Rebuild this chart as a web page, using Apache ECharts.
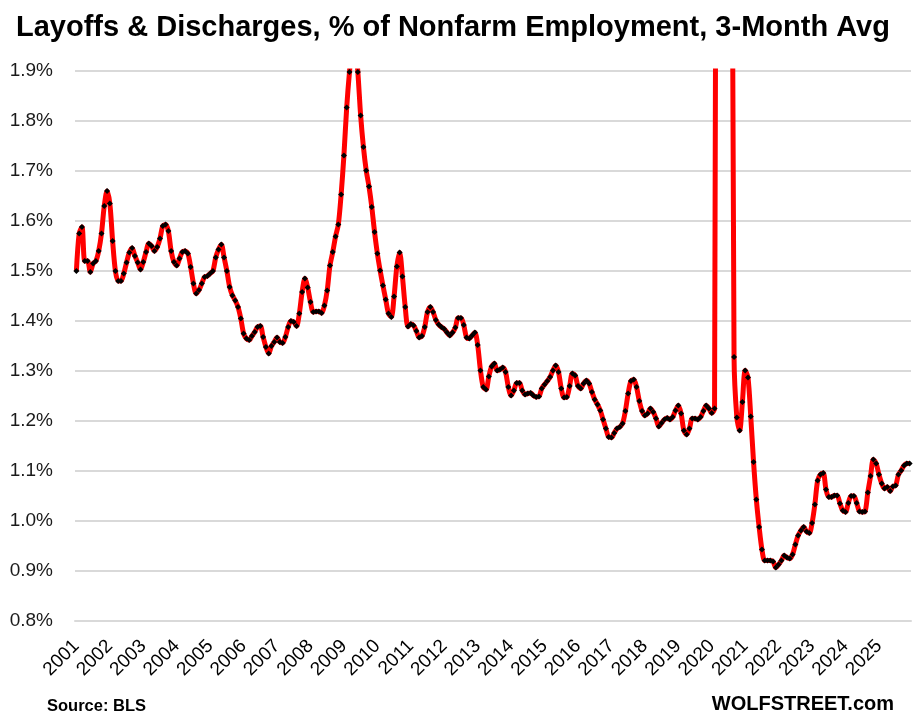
<!DOCTYPE html>
<html>
<head>
<meta charset="utf-8">
<script src="https://cdn.jsdelivr.net/npm/echarts@6/dist/echarts.min.js"></script>
<style>
html,body{margin:0;padding:0;background:#fff;}
#c{width:922px;height:727px;}
</style>
</head>
<body>
<div id="c"></div>
<script>
// Tick labels (years) and monthly values, % of nonfarm employment (3-month avg)
const years = ['2001','2002','2003','2004','2005','2006','2007','2008','2009','2010','2011','2012','2013',
  '2014','2015','2016','2017','2018','2019','2020','2021','2022','2023','2024','2025'];

const y2001 = [1.50, 1.575, 1.588, 1.52, 1.52, 1.498, 1.515, 1.52, 1.54, 1.575, 1.63, 1.66];
const y2002 = [1.635, 1.56, 1.50, 1.48, 1.48, 1.495, 1.517, 1.537, 1.546, 1.53, 1.517, 1.503];
const y2003 = [1.518, 1.538, 1.555, 1.55, 1.54, 1.548, 1.565, 1.59, 1.593, 1.58, 1.54, 1.518];
const y2004 = [1.511, 1.525, 1.538, 1.54, 1.535, 1.508, 1.475, 1.455, 1.462, 1.475, 1.488, 1.49];
const y2005 = [1.495, 1.50, 1.527, 1.543, 1.553, 1.527, 1.50, 1.468, 1.451, 1.441, 1.428, 1.405];
const y2006 = [1.375, 1.365, 1.362, 1.37, 1.378, 1.388, 1.39, 1.368, 1.348, 1.335, 1.35, 1.358];
const y2007 = [1.367, 1.358, 1.356, 1.368, 1.388, 1.40, 1.398, 1.39, 1.415, 1.458, 1.485, 1.467];
const y2008 = [1.438, 1.418, 1.419, 1.419, 1.416, 1.431, 1.461, 1.511, 1.538, 1.569, 1.593, 1.653];
const y2009 = [1.731, 1.827, 1.898, 1.95, 1.96, 1.898, 1.811, 1.748, 1.701, 1.669, 1.628, 1.578];
const y2010 = [1.535, 1.501, 1.471, 1.443, 1.415, 1.408, 1.449, 1.509, 1.537, 1.489, 1.428, 1.389];
const y2011 = [1.394, 1.391, 1.38, 1.367, 1.370, 1.388, 1.418, 1.428, 1.418, 1.402, 1.393, 1.388];
const y2012 = [1.384, 1.377, 1.371, 1.377, 1.387, 1.406, 1.406, 1.392, 1.367, 1.365, 1.371, 1.377];
const y2013 = [1.352, 1.301, 1.268, 1.263, 1.289, 1.309, 1.315, 1.301, 1.303, 1.307, 1.298, 1.268];
const y2014 = [1.251, 1.261, 1.276, 1.276, 1.261, 1.253, 1.255, 1.256, 1.251, 1.248, 1.249, 1.265];
const y2015 = [1.273, 1.28, 1.288, 1.301, 1.311, 1.298, 1.265, 1.247, 1.248, 1.27, 1.295, 1.291];
const y2016 = [1.27, 1.265, 1.275, 1.281, 1.275, 1.258, 1.243, 1.233, 1.221, 1.203, 1.185, 1.168];
const y2017 = [1.167, 1.176, 1.185, 1.188, 1.195, 1.22, 1.255, 1.28, 1.283, 1.268, 1.24, 1.22];
const y2018 = [1.211, 1.215, 1.225, 1.218, 1.205, 1.189, 1.196, 1.203, 1.206, 1.203, 1.208, 1.221];
const y2019 = [1.231, 1.215, 1.181, 1.173, 1.185, 1.205, 1.205, 1.203, 1.208, 1.22, 1.231, 1.225];
const y2020 = [1.216, 1.225, 3.6, 5.1, 5.3, 4.6, 3.9, 2.8, 1.328, 1.207, 1.181, 1.238];
const y2021 = [1.301, 1.287, 1.209, 1.118, 1.043, 0.988, 0.943, 0.921, 0.921, 0.921, 0.919, 0.907];
const y2022 = [0.913, 0.921, 0.931, 0.927, 0.925, 0.933, 0.953, 0.971, 0.981, 0.988, 0.979, 0.976];
const y2023 = [0.996, 1.033, 1.081, 1.093, 1.096, 1.063, 1.048, 1.048, 1.051, 1.051, 1.035, 1.021];
const y2024 = [1.018, 1.036, 1.05, 1.05, 1.036, 1.019, 1.018, 1.019, 1.057, 1.09, 1.123, 1.115];
const y2025 = [1.093, 1.075, 1.065, 1.068, 1.06, 1.069, 1.071, 1.093, 1.101, 1.111, 1.115, 1.115];

const yearly = [y2001,y2002,y2003,y2004,y2005,y2006,y2007,y2008,y2009,y2010,y2011,y2012,y2013,
  y2014,y2015,y2016,y2017,y2018,y2019,y2020,y2021,y2022,y2023,y2024,y2025];

const categories = [];
const values = [];
years.forEach((yr, k) => {
  yearly[k].forEach((v, m) => {
    categories.push(yr + '-' + String(m + 1).padStart(2, '0'));
    values.push(v);
  });
});

// use a condensed face for the watermark if it is installed
function hasFont(name) {
  const c = document.createElement('canvas').getContext('2d');
  const s = 'WOLFSTREET.com mmmwwwiii';
  c.font = 'bold 40px monospace'; const a = c.measureText(s).width;
  c.font = 'bold 40px "' + name + '", monospace'; const b = c.measureText(s).width;
  c.font = 'bold 40px serif'; const a2 = c.measureText(s).width;
  c.font = 'bold 40px "' + name + '", serif'; const b2 = c.measureText(s).width;
  return a !== b || a2 !== b2;
}
const FONT = '"Liberation Sans", Arial, sans-serif';
const narrow = hasFont('Liberation Sans Narrow');
const markFont = narrow ? 'bold 24px "Liberation Sans Narrow", sans-serif' : 'bold 20px ' + FONT;

const chart = echarts.init(document.getElementById('c'));
chart.setOption({
  animation: false,
  backgroundColor: '#fff',
  title: {
    text: 'Layoffs & Discharges, % of Nonfarm Employment, 3-Month Avg',
    left: 11, top: 8,
    textStyle: { fontFamily: FONT, fontWeight: 'bold', fontSize: 29, color: '#000' }
  },
  graphic: [
    { type: 'text', left: 47, top: 698,
      style: { text: 'Source: BLS', font: 'bold 16.5px ' + FONT, fill: '#000' } },
    { type: 'text', right: 28, top: narrow ? 692 : 694,
      style: { text: 'WOLFSTREET.com', font: markFont, fill: '#000' } }
  ],
  grid: { left: 75, right: 11, top: 71, bottom: 106 },
  xAxis: {
    type: 'category',
    data: categories,
    boundaryGap: true,
    axisLine: { lineStyle: { color: '#d9d9d9', width: 2 } },
    axisTick: { interval: (i) => i % 12 === 0, length: 6, lineStyle: { color: '#d9d9d9', width: 2 } },
    axisLabel: {
      interval: (i) => i % 12 === 0,
      rotate: 45,
      margin: 22,
      formatter: (v) => v.slice(0, 4),
      fontFamily: FONT, fontSize: 19, color: '#000'
    },
    splitLine: { show: false }
  },
  yAxis: {
    type: 'value',
    min: 0.8, max: 1.9, interval: 0.1,
    axisLine: { show: false },
    axisTick: { show: false },
    axisLabel: {
      formatter: (v) => v.toFixed(1) + '%',
      margin: 22,
      fontFamily: FONT, fontSize: 19, color: '#1a1a1a'
    },
    splitLine: { lineStyle: { color: '#d9d9d9', width: 2 } }
  },
  series: [{
    type: 'line',
    data: values,
    smooth: 0.3,
    clip: true,
    showAllSymbol: true,
    symbol: 'diamond',
    symbolSize: 6,
    itemStyle: { color: '#000' },
    lineStyle: { color: '#ff0000', width: 5 },
    z: 3
  }]
});
</script>
</body>
</html>
